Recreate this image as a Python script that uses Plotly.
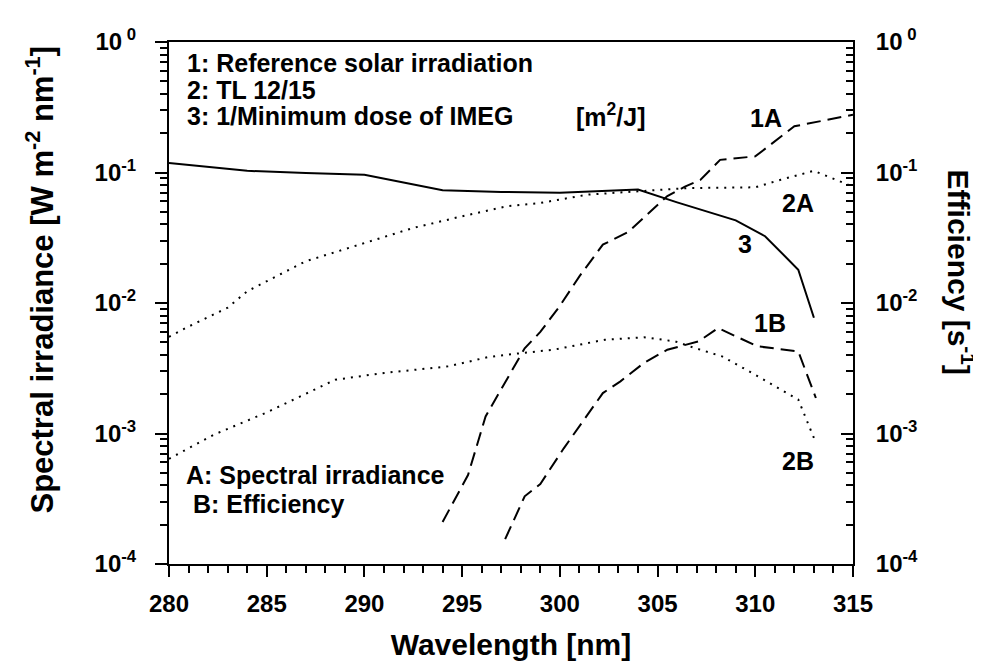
import plotly.graph_objects as go

# ---------------- data ----------------
# 3: 1/Minimum dose of IMEG (solid)
wl_3 = [280, 284, 287, 290, 294, 297, 300, 304, 306, 309, 310.5, 312.2, 313]
val_3 = [0.118, 0.103, 0.099, 0.096, 0.073, 0.071, 0.070, 0.074, 0.059, 0.043, 0.0325, 0.018, 0.0077]

# 2A: TL 12/15 spectral irradiance (dotted, upper)
wl_2A = [280, 281, 283, 284, 287, 290, 292.5, 295, 297.3, 299, 301.4, 304, 306.6, 310, 311.3, 313, 315]
val_2A = [0.0055, 0.0066, 0.0092, 0.0123, 0.0209, 0.0288, 0.0376, 0.0462, 0.0551, 0.0584, 0.0676,
          0.0718, 0.076, 0.077, 0.088, 0.103, 0.078]

# 2B: TL 12/15 efficiency (dotted, lower)
wl_2B = [280, 282.3, 285, 288.5, 291, 294.3, 296.3, 297.3, 299.7, 302.3, 304.3, 305.9, 306.9, 308.3,
         310, 312.2, 313.1]
val_2B = [0.00064, 0.00098, 0.00145, 0.00258, 0.00291, 0.00327, 0.00384, 0.00402, 0.00439, 0.00523,
          0.00546, 0.00508, 0.00452, 0.0039, 0.00282, 0.00182, 0.00085]

# 1A: Reference solar spectral irradiance (dashed, upper)
wl_1A = [294, 295.3, 296.2, 297.3, 298.2, 299, 300, 301, 302.2, 303.5, 305.5, 306.4, 307.2, 308.2,
         310, 312, 315]
val_1A = [0.00021, 0.00048, 0.00135, 0.0026, 0.0045, 0.006, 0.0095, 0.016, 0.028, 0.035, 0.066,
          0.078, 0.088, 0.125, 0.133, 0.226, 0.277]

# 1B: Reference solar efficiency (dashed, lower)
wl_1B = [297.2, 298.2, 299, 300.2, 302.2, 303.1, 304.3, 305.5, 307.1, 308.1, 310.1, 312.2, 313.1]
val_1B = [0.000155, 0.00033, 0.00041, 0.00077, 0.00204, 0.00251, 0.00347, 0.00439, 0.00508,
          0.00643, 0.00466, 0.00426, 0.00187]

x_ticks = [280, 285, 290, 295, 300, 305, 310, 315]
y_ticks = [1e-4, 1e-3, 1e-2, 1e-1, 1]
y_ticktext = ["10<sup>-4</sup>", "10<sup>-3</sup>", "10<sup>-2</sup>", "10<sup>-1</sup>", "10<sup> 0</sup>"]

# ---------------- figure ----------------
FONT = "Liberation Sans"
BLACK = "black"
DASH = "14px,7px"
DOT = "2px,6px"

minor_y = [m * 10 ** k for k in range(-4, 0) for m in range(2, 10)]
minor_x = list(range(280, 316))

fig = go.Figure()
fig.add_trace(go.Scatter(x=wl_3, y=val_3, mode="lines", yaxis="y",
                         line=dict(color=BLACK, width=2), showlegend=False))
fig.add_trace(go.Scatter(x=wl_2A, y=val_2A, mode="lines", yaxis="y",
                         line=dict(color=BLACK, width=2, dash=DOT), showlegend=False))
fig.add_trace(go.Scatter(x=wl_1A, y=val_1A, mode="lines", yaxis="y",
                         line=dict(color=BLACK, width=2, dash=DASH), showlegend=False))
fig.add_trace(go.Scatter(x=wl_2B, y=val_2B, mode="lines", yaxis="y2",
                         line=dict(color=BLACK, width=2, dash=DOT), showlegend=False))
fig.add_trace(go.Scatter(x=wl_1B, y=val_1B, mode="lines", yaxis="y2",
                         line=dict(color=BLACK, width=2, dash=DASH), showlegend=False))

tickfont = dict(family=FONT, size=24, color=BLACK, weight="bold")
titlefont = dict(family=FONT, size=30, color=BLACK, weight="bold")
textfont = dict(family=FONT, size=25, color=BLACK, weight="bold")

fig.update_layout(
    width=981, height=666,
    margin=dict(l=161, r=136, t=34, b=110, autoexpand=False),
    paper_bgcolor="white", plot_bgcolor="white",
    xaxis=dict(
        range=[280, 315], tickmode="array", tickvals=x_ticks,
        ticks="outside", ticklen=11, tickwidth=2, tickcolor=BLACK,
        showline=True, linewidth=2, linecolor=BLACK, mirror=True,
        showgrid=False, zeroline=False, tickfont=tickfont, ticklabelstandoff=6,
        minor=dict(tickmode="array", tickvals=minor_x, ticks="outside", ticklen=7,
                   tickwidth=2, tickcolor=BLACK, showgrid=False),
        title=dict(text="Wavelength [nm]", font=titlefont, standoff=18),
        automargin=False,
    ),
    yaxis=dict(
        type="log", range=[-4, 0], tickmode="array", tickvals=y_ticks, ticktext=y_ticktext,
        ticks="outside", ticklen=12, tickwidth=2, tickcolor=BLACK,
        showline=True, linewidth=2, linecolor=BLACK, mirror=False,
        showgrid=False, zeroline=False, tickfont=tickfont, ticklabelstandoff=14,
        minor=dict(tickmode="array", tickvals=minor_y, ticks="outside", ticklen=7,
                   tickwidth=2, tickcolor=BLACK, showgrid=False),
        automargin=False,
    ),
    yaxis2=dict(
        type="log", range=[-4, 0], overlaying="y", side="right",
        tickmode="array", tickvals=y_ticks, ticktext=y_ticktext,
        ticks="inside", ticklen=12, tickwidth=2, tickcolor=BLACK,
        showline=True, linewidth=2, linecolor=BLACK,
        showgrid=False, zeroline=False, tickfont=tickfont, ticklabelstandoff=16,
        minor=dict(tickmode="array", tickvals=minor_y, ticks="inside", ticklen=7,
                   tickwidth=2, tickcolor=BLACK, showgrid=False),
        automargin=False,
    ),
)

annotations = [
    # axis titles (y)
    dict(text="Spectral irradiance [W m<sup>-2</sup> nm<sup>-1</sup>]", xref="paper", yref="paper",
         x=-0.19, y=0.545, textangle=-90, showarrow=False,
         font=dict(family=FONT, size=31, color=BLACK, weight="bold"),
         xanchor="center", yanchor="middle"),
    dict(text="Efficiency [s<sup>-1</sup>]", xref="paper", yref="paper",
         x=1.158, y=0.56, textangle=90, showarrow=False, font=titlefont,
         xanchor="center", yanchor="middle"),
    # key text
    dict(text="1: Reference solar irradiation", x=280.8, y=-0.16, xanchor="left"),
    dict(text="2: TL 12/15", x=280.8, y=-0.37, xanchor="left"),
    dict(text="3: 1/Minimum dose of IMEG", x=280.8, y=-0.567, xanchor="left"),
    dict(text="[m<sup>2</sup>/J]", x=300.7, y=-0.56, xanchor="left"),
    dict(text="A: Spectral irradiance", x=280.75, y=-3.318, xanchor="left"),
    dict(text=" B: Efficiency", x=280.75, y=-3.54, xanchor="left"),
    # curve labels
    dict(text="1A", x=310.55, y=-0.582, xanchor="center"),
    dict(text="2A", x=312.19, y=-1.234, xanchor="center"),
    dict(text="3", x=309.47, y=-1.548, xanchor="center"),
    dict(text="1B", x=310.75, y=-2.153, xanchor="center"),
    dict(text="2B", x=312.19, y=-3.211, xanchor="center"),
]
for a in annotations:
    if "xref" not in a:
        a.update(xref="x", yref="y", showarrow=False, font=textfont, yanchor="middle")
    fig.add_annotation(**a)

fig.write_html("out.html")
